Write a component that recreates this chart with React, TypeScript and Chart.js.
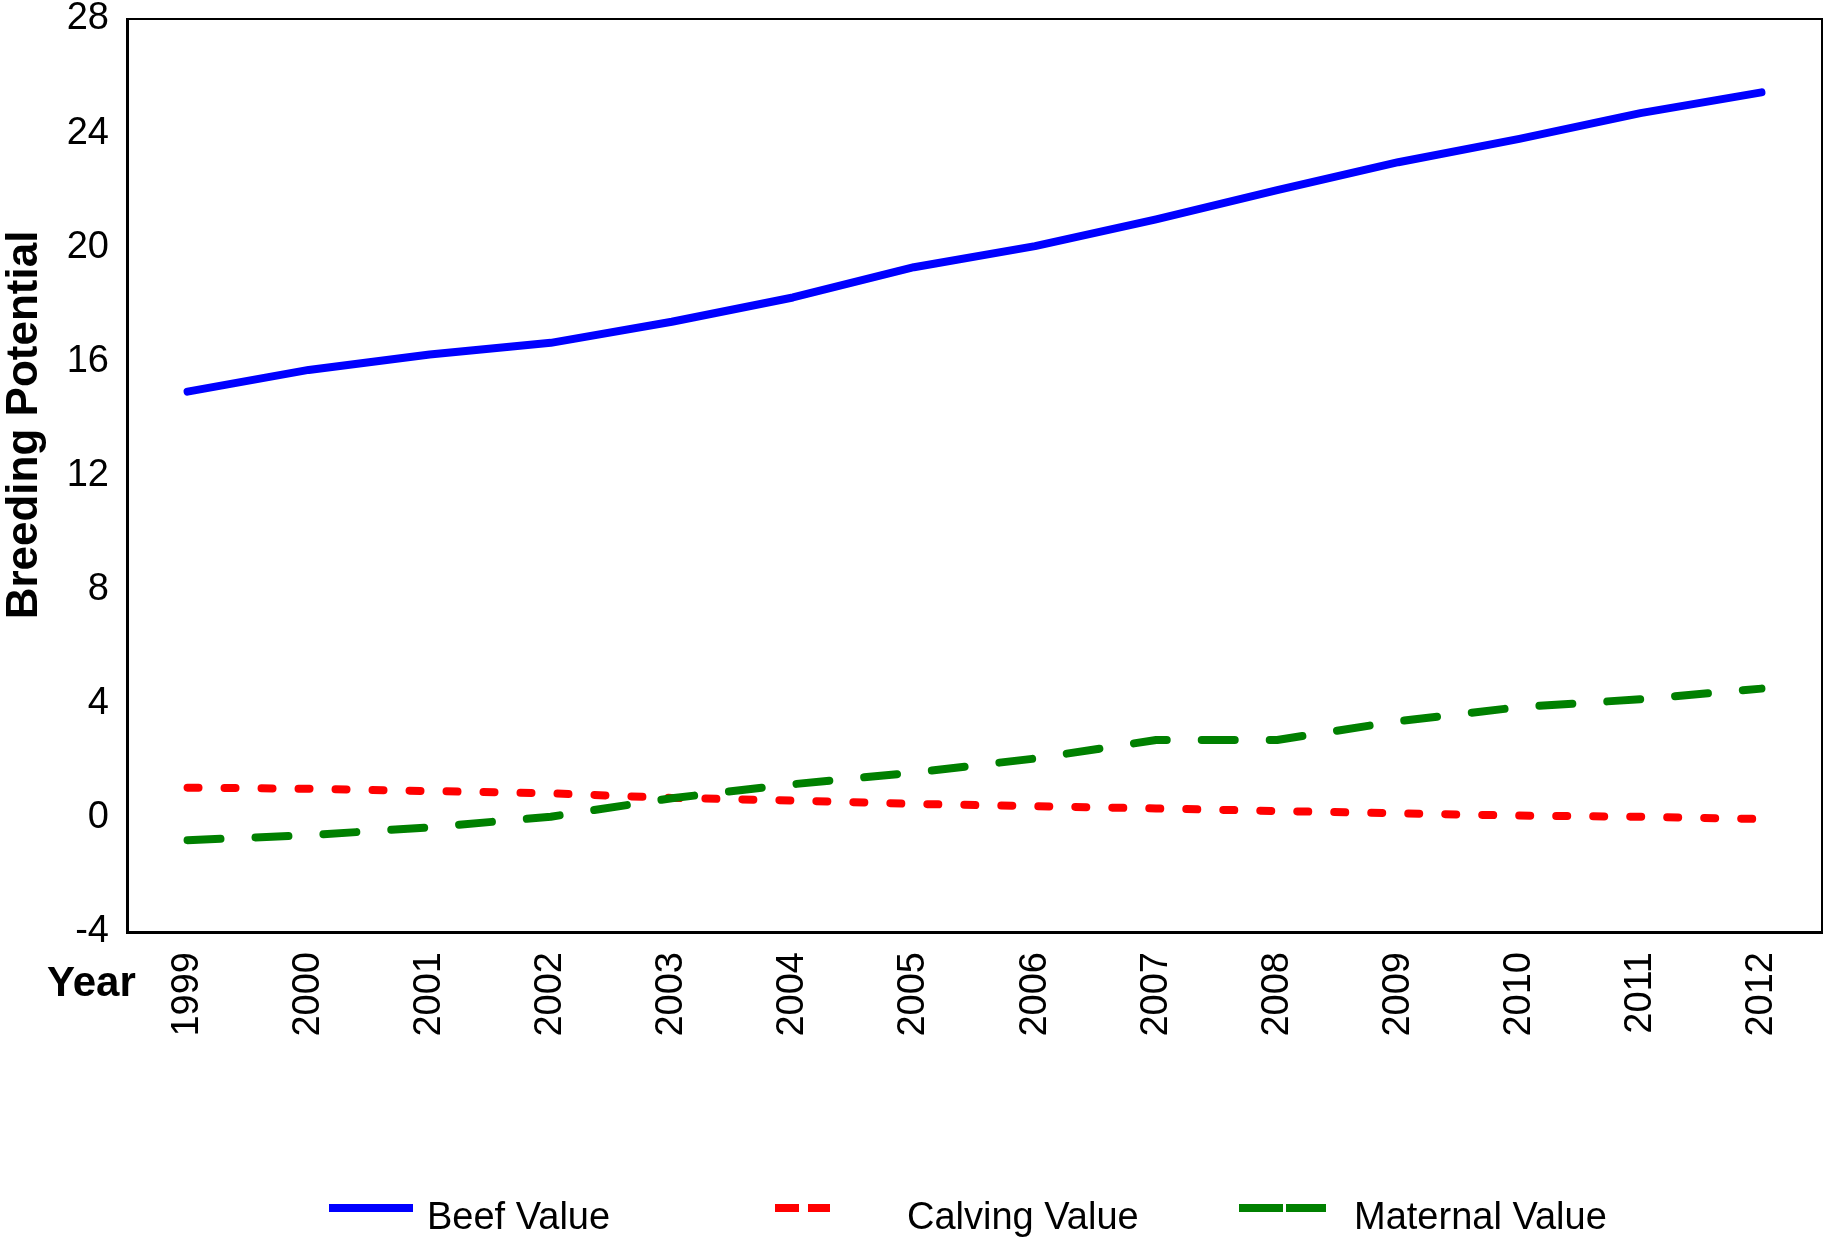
import React, { useEffect, useRef } from "react";
import { Chart, registerables } from "chart.js";

Chart.register(...registerables);

const years = ["1999", "2000", "2001", "2002", "2003", "2004", "2005", "2006", "2007", "2008", "2009", "2010", "2011", "2012"];
const beefValue = [14.94, 15.7, 16.24, 16.65, 17.39, 18.24, 19.3, 20.04, 20.98, 22.0, 22.98, 23.8, 24.7, 25.43];
const calvingValue = [1.06, 1.02, 0.94, 0.86, 0.7, 0.61, 0.49, 0.41, 0.33, 0.24, 0.16, 0.08, 0.04, -0.04];
const maternalValue = [-0.78, -0.61, -0.33, 0.04, 0.69, 1.18, 1.59, 2.08, 2.73, 2.73, 3.39, 3.88, 4.16, 4.53];
const seriesNames = ["Beef Value", "Calving Value", "Maternal Value"];
const seriesColors = ["#0000ff", "#ff0000", "#008000"];
const yMin = -4;
const yMax = 28;
const yStep = 4;
const xAxisLabel = "Year";
const yAxisLabel = "Breeding Potential";

const FONT = "'Liberation Sans', Arial, sans-serif";

const framePlugin = {
  id: "frame",
  afterDraw(chart: any) {
    const { ctx, chartArea } = chart;
    ctx.save();
    ctx.strokeStyle = "#000";
    ctx.lineWidth = 2;
    ctx.beginPath();
    ctx.moveTo(chartArea.left, chartArea.top);
    ctx.lineTo(chartArea.right, chartArea.top);
    ctx.lineTo(chartArea.right, chartArea.bottom);
    ctx.stroke();

    // y-axis title
    ctx.fillStyle = "#000";
    ctx.save();
    ctx.translate(25, 425);
    ctx.rotate(-Math.PI / 2);
    ctx.font = `bold 44px ${FONT}`;
    ctx.textAlign = "center";
    ctx.textBaseline = "middle";
    ctx.fillText(yAxisLabel, 0, 0);
    ctx.restore();

    // "Year" label
    ctx.font = `bold 42px ${FONT}`;
    ctx.textAlign = "left";
    ctx.textBaseline = "alphabetic";
    ctx.fillText(xAxisLabel, 47, chartArea.bottom + 64);

    // legend
    const ly = chart.height - 33;
    const ty = chart.height - 12;
    ctx.font = `38px ${FONT}`;
    ctx.fillStyle = seriesColors[0];
    ctx.fillRect(329, ly - 4, 84, 8);
    ctx.fillStyle = seriesColors[1];
    ctx.fillRect(775, ly - 4, 24, 8);
    ctx.fillRect(808, ly - 4, 22, 8);
    ctx.fillStyle = seriesColors[2];
    ctx.fillRect(1239, ly - 4, 44, 8);
    ctx.fillRect(1286, ly - 4, 40, 8);
    ctx.fillStyle = "#000";
    ctx.fillText(seriesNames[0], 427, ty);
    ctx.fillText(seriesNames[1], 907, ty);
    ctx.fillText(seriesNames[2], 1354, ty);
    ctx.restore();
  },
};

export default function App() {
  const ref = useRef<HTMLCanvasElement | null>(null);
  useEffect(() => {
    if (!ref.current) return;
    const common = {
      borderWidth: 8,
      borderCapStyle: "round",
      borderJoinStyle: "round",
      pointRadius: 0,
      tension: 0,
    };
    const chart = new Chart(ref.current, {
      type: "line",
      data: {
        labels: years,
        datasets: [
          { ...common, label: seriesNames[0], data: beefValue, borderColor: seriesColors[0], backgroundColor: seriesColors[0], order: 1 },
          { ...common, label: seriesNames[1], data: calvingValue, borderColor: seriesColors[1], backgroundColor: seriesColors[1], borderDash: [11, 26], order: 2 },
          { ...common, label: seriesNames[2], data: maternalValue, borderColor: seriesColors[2], backgroundColor: seriesColors[2], borderDash: [33, 35], order: 0 },
        ],
      } as any,
      options: {
        animation: false,
        responsive: false,
        devicePixelRatio: 1,
        layout: { padding: { left: 0, top: 19, right: 3, bottom: 0 } },
        plugins: {
          legend: { display: false },
          tooltip: { enabled: false },
          title: { display: false },
        },
        scales: {
          x: {
            type: "category",
            offset: true,
            grid: { display: false, drawTicks: false },
            border: { display: true, color: "#000", width: 3 },
            ticks: {
              color: "#000",
              font: { family: FONT, size: 38 },
              minRotation: 90,
              maxRotation: 90,
              padding: 20,
              autoSkip: false,
            },
            afterFit(scale: any) {
              scale.height = 309;
              scale.paddingLeft = 0;
              scale.paddingRight = 0;
            },
          },
          y: {
            type: "linear",
            min: yMin,
            max: yMax,
            grid: { display: false, drawTicks: false },
            border: { display: true, color: "#000", width: 3 },
            ticks: {
              stepSize: yStep,
              color: "#000",
              font: { family: FONT, size: 38 },
              padding: 18,
            },
            afterFit(scale: any) {
              scale.width = 127;
              scale.paddingTop = 0;
              scale.paddingBottom = 0;
            },
          },
        },
      },
      plugins: [framePlugin],
    });
    return () => chart.destroy();
  }, []);
  return (
    <div style={{ position: "fixed", left: 0, top: 0, width: 1825, height: 1241, background: "#fff" }}>
      <canvas ref={ref} width={1825} height={1241} style={{ display: "block" }} />
    </div>
  );
}
